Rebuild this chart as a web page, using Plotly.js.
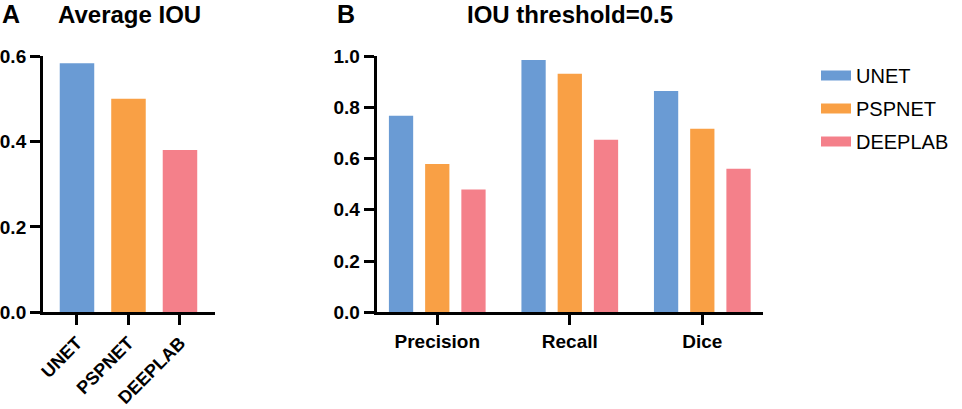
<!DOCTYPE html>
<html>
<head>
<meta charset="utf-8">
<script src="https://cdn.plot.ly/plotly-3.0.1.min.js"></script>
<style>html,body{margin:0;padding:0;background:#fff;}#chart{width:962px;height:409px;}</style>
</head>
<body>
<div id="chart"></div>
<script>
// ---- data ----
const models = ["UNET", "PSPNET", "DEEPLAB"];
const avgIOU = [0.583, 0.500, 0.380];
const metrics = ["Precision", "Recall", "Dice"];
const unetVals = [0.767, 0.984, 0.863];
const pspnetVals = [0.579, 0.931, 0.716];
const deeplabVals = [0.479, 0.673, 0.560];
const colors = ["#6A9BD4", "#F9A045", "#F4808A"];
const yTicksA = [0, 0.2, 0.4, 0.6];
const yTicksB = [0, 0.2, 0.4, 0.6, 0.8, 1.0];

const FONT = "Liberation Sans, Arial, Helvetica, sans-serif";
const H = 409, W = 962;

const seriesB = [unetVals, pspnetVals, deeplabVals];

const traces = [];
// Panel A
traces.push({
  type: "bar", x: models, y: avgIOU, width: 0.67,
  marker: {color: colors, line: {width: 0}},
  xaxis: "x", yaxis: "y", showlegend: false, hoverinfo: "x+y"
});
// Panel B
models.forEach((m, i) => {
  traces.push({
    type: "bar", x: metrics, y: seriesB[i], name: m,
    marker: {color: colors[i], line: {width: 0}},
    xaxis: "x2", yaxis: "y2", showlegend: false
  });
});
// legend entries (rectangular swatches)
models.forEach((m, i) => {
  traces.push({
    type: "scatter", mode: "lines", x: [null], y: [null], name: m,
    line: {color: colors[i], width: 14}, legendgroup: m,
    xaxis: "x2", yaxis: "y2", hoverinfo: "skip"
  });
});

const axisCommon = {
  showline: true, linewidth: 3, linecolor: "#000",
  ticks: "outside", ticklen: 10, tickwidth: 3, tickcolor: "#000",
  showgrid: false, zeroline: false,
  tickfont: {family: FONT, size: 19, color: "#000", weight: "bold"}
};

const yBottom = (H - 312.3) / H, yTop = (H - 56) / H;

const layout = {
  width: W, height: H,
  margin: {l: 0, r: 0, t: 0, b: 0},
  paper_bgcolor: "#fff", plot_bgcolor: "#fff",
  barmode: "group", bargap: 0.18, bargroupgap: 0.33,
  font: {family: FONT, color: "#000"},
  xaxis: Object.assign({}, axisCommon, {
    domain: [43 / W, 215 / W], range: [-0.66, 2.68], tickangle: -45,
    type: "category", anchor: "y",
    tickfont: {family: FONT, size: 18, color: "#000", weight: "bold"}
  }),
  yaxis: Object.assign({}, axisCommon, {
    domain: [yBottom, yTop], range: [0, 0.6], tickvals: yTicksA,
    tickformat: ".1f", anchor: "x"
  }),
  xaxis2: Object.assign({}, axisCommon, {
    domain: [376.7 / W, 763 / W], range: [-0.457, 2.458],
    type: "category", anchor: "y2"
  }),
  yaxis2: Object.assign({}, axisCommon, {
    domain: [yBottom, yTop], range: [0, 1.0], tickvals: yTicksB,
    tickformat: ".1f", anchor: "x2"
  }),
  showlegend: true,
  legend: {
    x: 816 / W, xanchor: "left", y: (H - 56) / H, yanchor: "top",
    font: {family: FONT, size: 20, color: "#000"},
    tracegroupgap: 4, bgcolor: "rgba(0,0,0,0)", borderwidth: 0
  },
  annotations: [
    {text: "A", x: 0, y: 1 - 14 / H, xref: "paper", yref: "paper", xanchor: "left", yanchor: "middle",
     showarrow: false, font: {family: FONT, size: 25, weight: "bold", color: "#000"}},
    {text: "Average IOU", x: 129 / W, y: 1 - 14 / H, xref: "paper", yref: "paper", xanchor: "center", yanchor: "middle",
     showarrow: false, font: {family: FONT, size: 24, weight: "bold", color: "#000"}},
    {text: "B", x: 335 / W, y: 1 - 14 / H, xref: "paper", yref: "paper", xanchor: "left", yanchor: "middle",
     showarrow: false, font: {family: FONT, size: 25, weight: "bold", color: "#000"}},
    {text: "IOU threshold=0.5", x: 570 / W, y: 1 - 14 / H, xref: "paper", yref: "paper", xanchor: "center", yanchor: "middle",
     showarrow: false, font: {family: FONT, size: 24, weight: "bold", color: "#000"}}
  ]
};

Plotly.newPlot("chart", traces, layout, {staticPlot: true, displayModeBar: false});
</script>
</body>
</html>
